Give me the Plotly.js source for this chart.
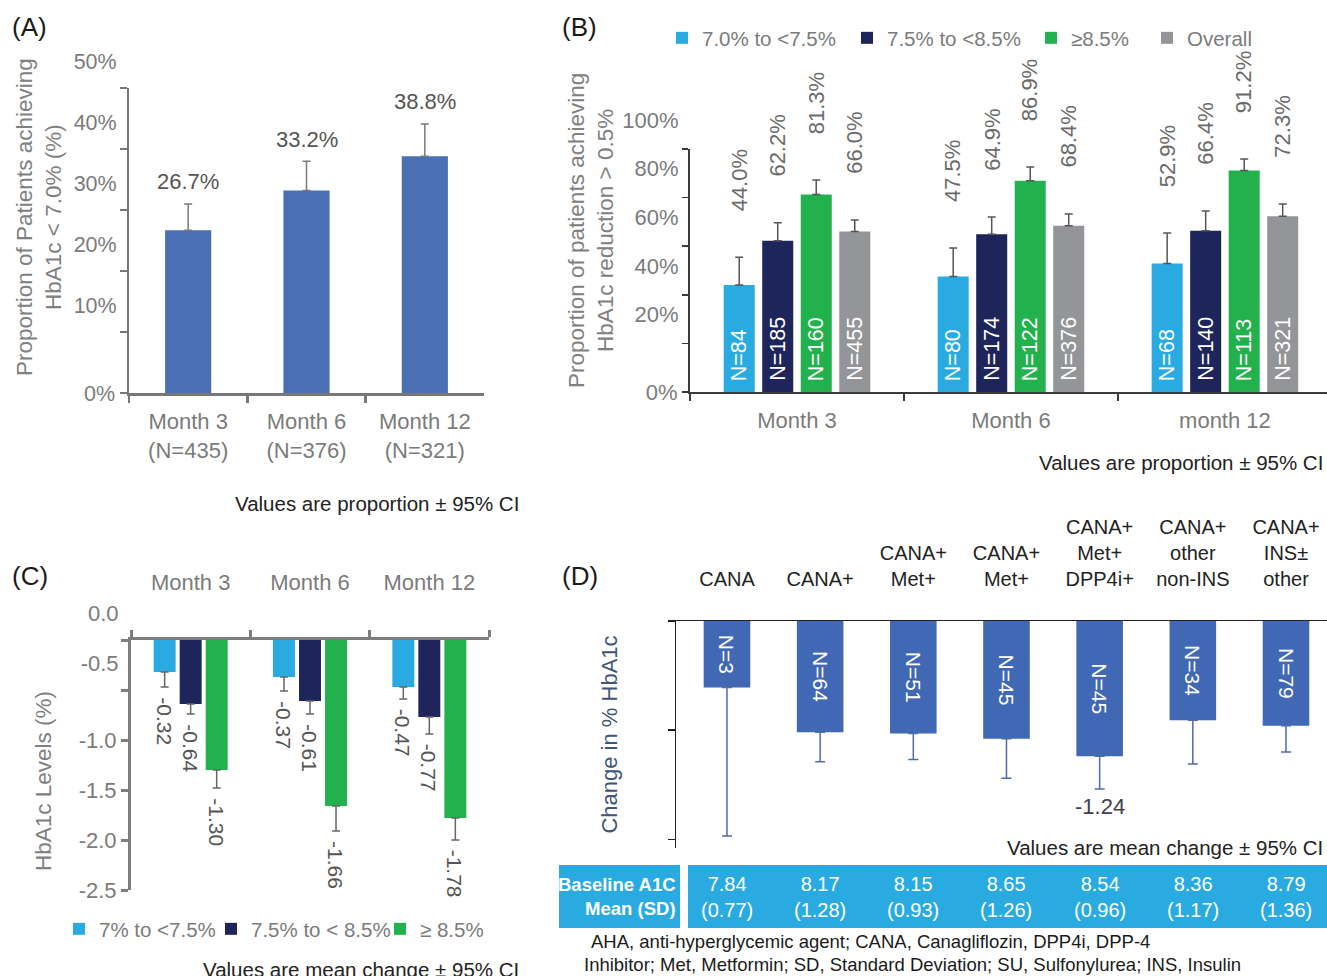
<!DOCTYPE html>
<html>
<head>
<meta charset="utf-8">
<script src="https://cdn.plot.ly/plotly-3.0.1.min.js"></script>
<style>
  html, body { margin: 0; padding: 0; background: #ffffff; }
  #fig { width: 1327px; height: 976px; }
</style>
</head>
<body>
<div id="fig"></div>
<script>
// ---------- (A) HbA1c < 7.0% by visit ----------
const monthsA = ['Month 3', 'Month 6', 'Month 12'];
const nA = [435, 376, 321];
const pctA = [26.7, 33.2, 38.8];
const ciUpA = [4.3, 4.8, 5.3];
const yTicksA = [0, 10, 20, 30, 40, 50];

// ---------- (B) HbA1c reduction > 0.5% by baseline group ----------
const monthsB = ['Month 3', 'Month 6', 'month 12'];
const groupsB = ['7.0% to <7.5%', '7.5% to <8.5%', '≥8.5%', 'Overall'];
const pctB = [
  [44.0, 47.5, 52.9],
  [62.2, 64.9, 66.4],
  [81.3, 86.9, 91.2],
  [66.0, 68.4, 72.3]
];
const ciUpB = [
  [11.5, 11.8, 12.5],
  [7.4, 7.1, 8.1],
  [5.9, 5.7, 4.7],
  [4.8, 4.9, 5.1]
];
const nB = [
  [84, 80, 68],
  [185, 174, 140],
  [160, 122, 113],
  [455, 376, 321]
];
const yTicksB = [0, 20, 40, 60, 80, 100];

// ---------- (C) mean change in HbA1c by baseline group ----------
const monthsC = ['Month 3', 'Month 6', 'Month 12'];
const groupsC = ['7% to <7.5%', '7.5% to < 8.5%', '≥ 8.5%'];
const changeC = [
  [-0.32, -0.37, -0.47],
  [-0.64, -0.61, -0.77],
  [-1.30, -1.66, -1.78]
];
const ciDownC = [
  [0.15, 0.14, 0.12],
  [0.10, 0.13, 0.17],
  [0.18, 0.25, 0.22]
];
const yTicksC = [0, -0.5, -1.0, -1.5, -2.0, -2.5];

// ---------- (D) mean change in HbA1c by regimen ----------
const regimensD = ['CANA', 'CANA+', 'CANA+<br>Met+', 'CANA+<br>Met+', 'CANA+<br>Met+<br>DPP4i+',
                   'CANA+<br>other<br>non-INS', 'CANA+<br>INS±<br>other'];
const nD = [3, 64, 51, 45, 45, 34, 79];
const changeD = [-0.61, -1.02, -1.03, -1.08, -1.24, -0.91, -0.96];
const ciDownD = [1.36, 0.27, 0.24, 0.36, 0.30, 0.40, 0.24];
const labelledD = [4];
const baselineMeanD = [7.84, 8.17, 8.15, 8.65, 8.54, 8.36, 8.79];
const baselineSdD = [0.77, 1.28, 0.93, 1.26, 0.96, 1.17, 1.36];
const yTicksD = [0, -1, -2];

// ---------- page geometry helpers (pixels -> paper fractions) ----------
const W = 1327, H = 976;
const px = v => v / W;
const py = v => 1 - v / H;

const FONT = 'Liberation Sans, Arial, Helvetica, sans-serif';
const GREY_TXT = '#7b7b7b';
const TITLE_GREY = '#808080';
const groupColors = ['#29abe2', '#1e255a', '#22b14c', '#939598'];
const zeros = n => new Array(n).fill(0);

// bar slot layout inside each category
const centerB = j => -0.27 + 0.18 * j;
const widthB = 0.145;
const centerC = j => -0.218 + 0.218 * j;
const widthC = 0.184;

const catsA = monthsA.map((m, i) => `${m}<br>(N=${nA[i]})`);

const traces = [];

// (A)
traces.push({
  type: 'bar', x: catsA, y: pctA, xaxis: 'x', yaxis: 'y',
  width: 0.39, marker: { color: '#4a6fb3' }, showlegend: false, hoverinfo: 'skip',
  error_y: { type: 'data', symmetric: false, array: ciUpA, arrayminus: zeros(3),
             color: '#7a7a7a', thickness: 1.5, width: 4 }
});

// (B)
groupsB.forEach((g, j) => {
  traces.push({
    type: 'bar', name: g, x: monthsB, y: pctB[j], xaxis: 'x2', yaxis: 'y2',
    width: widthB, offset: centerB(j) - widthB / 2,
    marker: { color: groupColors[j] }, hoverinfo: 'skip',
    legend: j === 0 ? 'legend' : 'legend' + (j + 1),
    error_y: { type: 'data', symmetric: false, array: ciUpB[j], arrayminus: zeros(3),
               color: '#555555', thickness: 1.5, width: 4 }
  });
});

// (C)
groupsC.forEach((g, j) => {
  traces.push({
    type: 'bar', name: g, x: monthsC, y: changeC[j], xaxis: 'x3', yaxis: 'y3',
    width: widthC, offset: centerC(j) - widthC / 2,
    marker: { color: groupColors[j] }, hoverinfo: 'skip',
    legend: 'legend' + (j + 5),
    error_y: { type: 'data', symmetric: false, array: zeros(3), arrayminus: ciDownC[j],
               color: '#666666', thickness: 1.5, width: 4 }
  });
});

// (D)
traces.push({
  type: 'bar', x: regimensD.map((_, i) => i), y: changeD, xaxis: 'x4', yaxis: 'y4',
  width: 0.5, marker: { color: '#4068b4' }, showlegend: false, hoverinfo: 'skip',
  text: nD.map(n => `N=${n}`), textposition: 'inside', insidetextanchor: 'middle',
  textangle: 90, constraintext: 'none',
  textfont: { family: FONT, size: 21, color: '#ffffff' },
  error_y: { type: 'data', symmetric: false, array: zeros(7), arrayminus: ciDownD,
             color: '#4d6ca8', thickness: 1.5, width: 5 }
});

// empty traces that register the label-only overlay axes
[['x', 'y5'], ['x2', 'y6'], ['x3', 'y7']].forEach(([xa, ya]) => traces.push({
  type: 'scatter', mode: 'markers', x: [], y: [], xaxis: xa, yaxis: ya,
  showlegend: false, hoverinfo: 'skip'
}));

// ---------- annotations ----------
const annotations = [];
const note = o => annotations.push(Object.assign({ showarrow: false }, o));

// panel letters
[['(A)', 10, 27], ['(B)', 560, 27], ['(C)', 10, 576], ['(D)', 560, 576]].forEach(([t, x, y]) =>
  note({ xref: 'paper', yref: 'paper', x: px(x), y: py(y), xanchor: 'left', yanchor: 'middle',
         text: t, font: { family: FONT, size: 26, color: '#1a1a1a' } }));

// y-axis titles of panels A-C
[['Proportion of Patients achieving<br>HbA1c < 7.0% (%)', 39, 217],
 ['Proportion of patients achieving<br>HbA1c reduction > 0.5%', 591, 231],
 ['HbA1c Levels (%)', 43, 781]].forEach(([t, x, y]) =>
  note({ xref: 'paper', yref: 'paper', x: px(x), y: py(y), xanchor: 'center', yanchor: 'middle',
         textangle: -90, text: t, font: { family: FONT, size: 22.5, color: TITLE_GREY } }));

// (A) value labels
pctA.forEach((v, i) => note({
  xref: 'x', yref: 'y', x: catsA[i], y: v + ciUpA[i], yanchor: 'middle', yshift: 22,
  text: v.toFixed(1) + '%', font: { family: FONT, size: 22, color: '#555555' }
}));

// (B) value labels above bars and N counts inside bars
groupsB.forEach((g, j) => {
  pctB[j].forEach((v, i) => {
    note({
      xref: 'x2', yref: 'y2', x: i + centerB(j), y: v + ciUpB[j][i],
      yanchor: 'bottom', xanchor: 'center', yshift: 44, textangle: -90,
      text: v.toFixed(1) + '%', font: { family: FONT, size: 22, color: '#6a6a6a' }
    });
    note({
      xref: 'x2', yref: 'y2', x: i + centerB(j), y: 0,
      yanchor: 'bottom', xanchor: 'center', yshift: 9, textangle: -90,
      text: `N=${nB[j][i]}`, font: { family: FONT, size: 21.5, color: '#ffffff' }
    });
  });
});

// (C) value labels below error bars
groupsC.forEach((g, j) => {
  changeC[j].forEach((v, i) => note({
    xref: 'x3', yref: 'y3', x: i + centerC(j), y: v - ciDownC[j][i],
    yanchor: 'top', xanchor: 'center', yshift: -8, textangle: 90,
    text: v.toFixed(2), font: { family: FONT, size: 21, color: '#555555' }
  }));
});

// (D) labelled bar value
labelledD.forEach(i => note({
  xref: 'x4', yref: 'y4', x: i, y: changeD[i] - ciDownD[i], yanchor: 'middle', yshift: -17,
  text: changeD[i].toFixed(2), font: { family: FONT, size: 22, color: '#40404a' }
}));

// footnotes on the CI
note({ xref: 'paper', yref: 'paper', x: px(521), y: py(503), xanchor: 'right', yanchor: 'middle',
       text: 'Values are proportion ± 95% CI', font: { family: FONT, size: 20.5, color: '#222222' } });
note({ xref: 'paper', yref: 'paper', x: px(1325), y: py(462), xanchor: 'right', yanchor: 'middle',
       text: 'Values are proportion ± 95% CI', font: { family: FONT, size: 20.5, color: '#222222' } });
note({ xref: 'paper', yref: 'paper', x: px(521), y: py(969), xanchor: 'right', yanchor: 'middle',
       text: 'Values are mean change ± 95% CI', font: { family: FONT, size: 20.5, color: '#222222' } });
note({ xref: 'paper', yref: 'paper', x: px(1325), y: py(847), xanchor: 'right', yanchor: 'middle',
       text: 'Values are mean change ± 95% CI', font: { family: FONT, size: 20.5, color: '#222222' } });

// (D) baseline table
note({ xref: 'paper', yref: 'paper', x: px(678), y: py(896), xanchor: 'right', yanchor: 'middle',
       align: 'right', text: '<b>Baseline A1C</b><br><b>Mean (SD)</b>',
       font: { family: FONT, size: 18.5, color: '#ffffff' } });
baselineMeanD.forEach((m, i) => note({
  xref: 'x4', yref: 'paper', x: i, y: py(897), xanchor: 'center', yanchor: 'middle',
  text: `${m.toFixed(2)}<br>(${baselineSdD[i].toFixed(2)})`,
  font: { family: FONT, size: 20, color: '#ffffff' }
}));

// abbreviations
note({ xref: 'paper', yref: 'paper', x: px(589), y: py(941), xanchor: 'left', yanchor: 'middle',
       text: 'AHA, anti-hyperglycemic agent; CANA, Canagliflozin, DPP4i, DPP-4',
       font: { family: FONT, size: 18.5, color: '#1a1a1a' } });
note({ xref: 'paper', yref: 'paper', x: px(582), y: py(964), xanchor: 'left', yanchor: 'middle',
       text: 'Inhibitor; Met, Metformin; SD, Standard Deviation; SU, Sulfonylurea; INS, Insulin',
       font: { family: FONT, size: 18.5, color: '#1a1a1a' } });

// table backgrounds
const shapes = [
  { type: 'rect', xref: 'paper', yref: 'paper', x0: px(559), x1: px(680), y0: py(928), y1: py(865),
    fillcolor: '#29abe2', line: { width: 0 }, layer: 'below' },
  { type: 'rect', xref: 'paper', yref: 'paper', x0: px(688), x1: 1, y0: py(928), y1: py(865),
    fillcolor: '#29abe2', line: { width: 0 }, layer: 'below' }
];

// ---------- axes ----------
const axisBase = { showgrid: false, zeroline: false, fixedrange: true };
const tickFont = (size, color) => ({ family: FONT, size: size, color: color || GREY_TXT });
const pctText = v => v + '%';

// one legend per entry so each swatch sits at its own place
const legendAt = (x, y) => ({
  x: px(x), y: py(y), xanchor: 'left', yanchor: 'middle', orientation: 'h',
  bgcolor: 'rgba(0,0,0,0)', borderwidth: 0,
  font: { family: FONT, size: 20.5, color: GREY_TXT }
});

const layout = {
  width: W, height: H,
  margin: { l: 0, r: 0, t: 0, b: 0 },
  paper_bgcolor: '#ffffff', plot_bgcolor: 'rgba(0,0,0,0)',
  font: { family: FONT, size: 20, color: GREY_TXT },
  barmode: 'overlay',
  showlegend: true,

  // (A)
  xaxis: Object.assign({}, axisBase, {
    domain: [px(129), px(484)], anchor: 'y', type: 'category', range: [-0.5, 2.5],
    showline: true, linecolor: '#777777', linewidth: 2.5,
    ticks: 'outside', tickson: 'boundaries', ticklen: 7, tickwidth: 2.5, tickcolor: '#777777',
    tickfont: tickFont(22), ticklabelstandoff: 7
  }),
  yaxis: Object.assign({}, axisBase, {
    domain: [py(393), py(88)], anchor: 'x', range: [0, 50],
    tickmode: 'array', tickvals: yTicksA, ticktext: yTicksA.map((v, i) => i === 0 ? pctText(v) : ''),
    showline: true, linecolor: '#777777', linewidth: 2.5,
    ticks: 'outside', ticklen: 7, tickwidth: 2.5, tickcolor: '#777777', tickfont: tickFont(21.5)
  }),
  yaxis5: Object.assign({}, axisBase, {
    overlaying: 'y', anchor: 'x', side: 'left', range: [0, 50],
    tickmode: 'array', tickvals: yTicksA.slice(1), ticktext: yTicksA.slice(1).map(pctText),
    showline: false, ticks: 'outside', ticklen: 7, tickcolor: 'rgba(0,0,0,0)',
    tickfont: tickFont(21.5), ticklabelshift: -27
  }),

  // (B)
  xaxis2: Object.assign({}, axisBase, {
    domain: [px(690), 1], anchor: 'y2', type: 'category', range: [-0.5, 2.477],
    showline: true, linecolor: '#3a3a3a', linewidth: 2,
    ticks: 'outside', tickson: 'boundaries', ticklen: 7, tickwidth: 1.5, tickcolor: '#3a3a3a',
    tickfont: tickFont(22), ticklabelstandoff: 8
  }),
  yaxis2: Object.assign({}, axisBase, {
    domain: [py(392), py(149)], anchor: 'x2', range: [0, 100],
    tickmode: 'array', tickvals: yTicksB, ticktext: yTicksB.map((v, i) => i === 0 ? pctText(v) : ''),
    showline: true, linecolor: '#3a3a3a', linewidth: 2,
    ticks: 'outside', ticklen: 6, tickwidth: 1.5, tickcolor: '#3a3a3a', tickfont: tickFont(22)
  }),
  yaxis6: Object.assign({}, axisBase, {
    overlaying: 'y2', anchor: 'x2', side: 'left', range: [0, 100],
    tickmode: 'array', tickvals: yTicksB.slice(1), ticktext: yTicksB.slice(1).map(pctText),
    showline: false, ticks: 'outside', ticklen: 6, tickcolor: 'rgba(0,0,0,0)',
    tickfont: tickFont(22), ticklabelshift: -29
  }),

  // (C)
  xaxis3: Object.assign({}, axisBase, {
    domain: [px(131), px(489)], anchor: 'y3', side: 'top', type: 'category', range: [-0.5, 2.5],
    showline: true, linecolor: '#7d7d7d', linewidth: 3,
    ticks: 'outside', tickson: 'boundaries', ticklen: 7, tickwidth: 3, tickcolor: '#7d7d7d',
    tickfont: tickFont(22), ticklabelstandoff: 38
  }),
  yaxis3: Object.assign({}, axisBase, {
    domain: [py(890), py(640)], anchor: 'x3', range: [-2.5, 0],
    tickmode: 'array', tickvals: yTicksC, ticktext: yTicksC.map((v, i) => i < 2 ? '' : v.toFixed(1)),
    showline: true, linecolor: '#7d7d7d', linewidth: 3,
    ticks: 'outside', ticklen: 7, tickwidth: 3, tickcolor: '#7d7d7d', tickfont: tickFont(22)
  }),
  yaxis7: Object.assign({}, axisBase, {
    overlaying: 'y3', anchor: 'x3', side: 'left', range: [-2.5, 0],
    tickmode: 'array', tickvals: yTicksC.slice(0, 2), ticktext: yTicksC.slice(0, 2).map(v => v.toFixed(1)),
    showline: false, ticks: 'outside', ticklen: 7, tickcolor: 'rgba(0,0,0,0)',
    tickfont: tickFont(22), ticklabelshift: -27
  }),

  // (D)
  xaxis4: Object.assign({}, axisBase, {
    domain: [px(676), 1], anchor: 'y4', side: 'top', type: 'linear', range: [-0.547, 6.44],
    tickmode: 'array', tickvals: regimensD.map((_, i) => i), ticktext: regimensD,
    showline: true, linecolor: '#222222', linewidth: 1.5, ticks: '',
    tickfont: tickFont(20, '#222222'), ticklabelstandoff: 26
  }),
  yaxis4: Object.assign({}, axisBase, {
    domain: [py(848), py(621)], anchor: 'x4', range: [-2.08, 0],
    tickmode: 'array', tickvals: yTicksD, showticklabels: false,
    showline: true, linecolor: '#222222', linewidth: 1.5,
    ticks: 'outside', ticklen: 7, tickwidth: 1.5, tickcolor: '#222222',
    title: { text: 'Change in % HbA1c', font: { family: FONT, size: 22, color: '#3d5577' }, standoff: 44 }
  }),

  legend: legendAt(662, 38),
  legend2: legendAt(847, 38),
  legend3: legendAt(1031, 38),
  legend4: legendAt(1147, 38),
  legend5: legendAt(59, 929),
  legend6: legendAt(211, 929),
  legend7: legendAt(380, 929),

  annotations: annotations,
  shapes: shapes
};

Plotly.newPlot('fig', traces, layout, { staticPlot: true, displayModeBar: false });
</script>
</body>
</html>
